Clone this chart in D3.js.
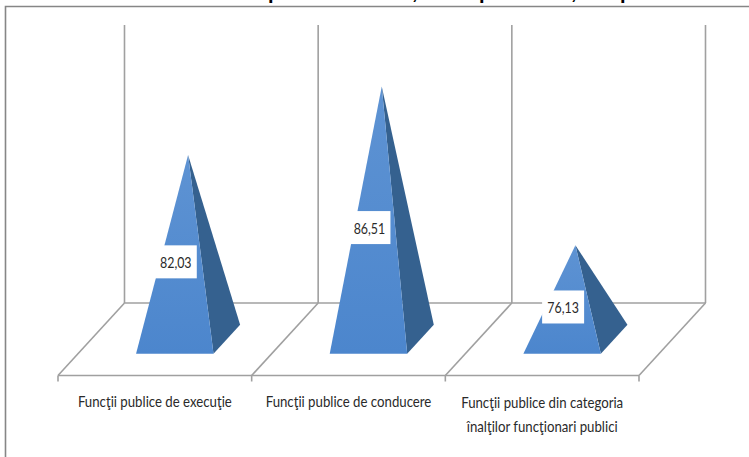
<!DOCTYPE html>
<html>
<head>
<meta charset="utf-8">
<script src="https://cdn.jsdelivr.net/npm/d3@7"></script>
<style>
html,body{margin:0;padding:0;background:#fff;overflow:hidden}
svg{display:block}
text{font-family:Lato,"Open Sans",sans-serif;fill:#2a2a2a}
</style>
</head>
<body>
<svg id="chart" width="749" height="457"></svg>
<script>
// Chart data
const categories = ["Funcţii publice de execuţie", "Funcţii publice de conducere", "Funcţii publice din categoria|înalţilor funcţionari publici"];
const values = [82.03, 86.51, 76.13];
const valueLabels = ["82,03", "86,51", "76,13"];
const valueDomain = [70, 90];
// The heading runs off the top edge: only these descenders remain on the page
const headingGlyphs = ["p", ",", "p", ",", "p"];
const headingStarts = [268, 412, 479, 571, 620];

const svg = d3.select("#chart");
const W = 749, H = 457;

// Oblique floor geometry
const floor = {front: 375.5, back: 303, dx: 66.5};
const wallTop = 25;
const x = d3.scaleBand().domain(categories).range([58, 639]).paddingInner(0).paddingOuter(0);
const y = d3.scaleLinear().domain(valueDomain).range([339, 33]);
// depth: 0 at the front floor edge, 1 at the back wall
const px = (frontX, d) => frontX + d * floor.dx;
const py = d => floor.front + d * (floor.back - floor.front);

const defs = svg.append("defs");
const g1 = defs.append("linearGradient").attr("id", "frontFace").attr("x1", 0).attr("y1", 0).attr("x2", 0).attr("y2", 1);
g1.append("stop").attr("offset", "0%").attr("stop-color", "#5e93d3");
g1.append("stop").attr("offset", "100%").attr("stop-color", "#4c86cd");

// Outer frame, open at the right and bottom edges
svg.append("path")
  .attr("d", `M5.5,${H} V6.5 H${W}`)
  .attr("fill", "none").attr("stroke", "#868686").attr("stroke-width", 1.6);

// Walls and floor
const grid = svg.append("g").attr("fill", "none").attr("stroke", "#a0a0a0").attr("stroke-width", 1.6);
const edges = [...categories.map(c => x(c)), x.range()[1]];
edges.forEach(e => {
  grid.append("line").attr("x1", px(e, 1)).attr("x2", px(e, 1)).attr("y1", wallTop).attr("y2", py(1));
  grid.append("line").attr("x1", e).attr("x2", px(e, 1)).attr("y1", py(0)).attr("y2", py(1));
  grid.append("line").attr("x1", e).attr("x2", e).attr("y1", py(0)).attr("y2", py(0) + 6);
});
grid.append("line").attr("x1", px(x.range()[0], 1)).attr("x2", px(x.range()[1], 1)).attr("y1", py(1)).attr("y2", py(1));
grid.append("line").attr("x1", x.range()[0]).attr("x2", x.range()[1]).attr("y1", py(0)).attr("y2", py(0));

// Pyramids
const baseHalf = x.bandwidth() * 0.2;
const nearD = 0.3, farD = 0.7;
const line = d3.line();
const pyr = svg.append("g").selectAll("g").data(categories).join("g");
pyr.each(function (c, i) {
  const g = d3.select(this);
  const cx = x(c) + x.bandwidth() / 2;
  const apex = [px(cx, 0.5), y(values[i])];
  const fl = [px(cx - baseHalf, nearD), py(nearD)];
  const fr = [px(cx + baseHalf, nearD), py(nearD)];
  const br = [px(cx + baseHalf, farD), py(farD)];
  g.append("path").attr("d", line([apex, fr, br]) + "Z").attr("fill", "#35618f");
  g.append("path").attr("d", line([apex, fl, fr]) + "Z").attr("fill", "url(#frontFace)");

  // Value label on a white plate, halfway up the front face
  const lx = (fl[0] + fr[0]) / 2 + 1;
  const ly = (apex[1] + fl[1]) / 2 + 8;
  g.append("rect").attr("x", lx - 21).attr("y", ly - 17).attr("width", 42).attr("height", 33).attr("fill", "#fff");
  g.append("text").attr("text-anchor", "middle")
    .attr("transform", `translate(${lx},${ly + 6}) scale(0.8,1)`)
    .attr("font-size", 15.5).text(valueLabels[i]);
});

// Category labels, set in a condensed cut
svg.append("g").selectAll("text").data(categories).join("text")
  .attr("text-anchor", "middle")
  .attr("font-size", 15.5)
  .attr("transform", c => `translate(${x(c) + x.bandwidth() / 2},0) scale(0.853,1)`)
  .each(function (c) {
    const parts = c.split("|");
    d3.select(this).selectAll("tspan").data(parts).join("tspan")
      .attr("x", 0).attr("y", (d, k) => parts.length > 1 ? 408 + k * 24 : 407)
      .text(d => d);
  });

// Clipped heading glyphs
svg.append("g").selectAll("text").data(headingGlyphs).join("text")
  .attr("x", (d, i) => headingStarts[i])
  .attr("y", -1)
  .attr("font-size", 20)
  .attr("font-weight", 700)
  .style("font-family", "'Liberation Sans'")
  .style("fill", "#000")
  .text(d => d);
</script>
</body>
</html>
